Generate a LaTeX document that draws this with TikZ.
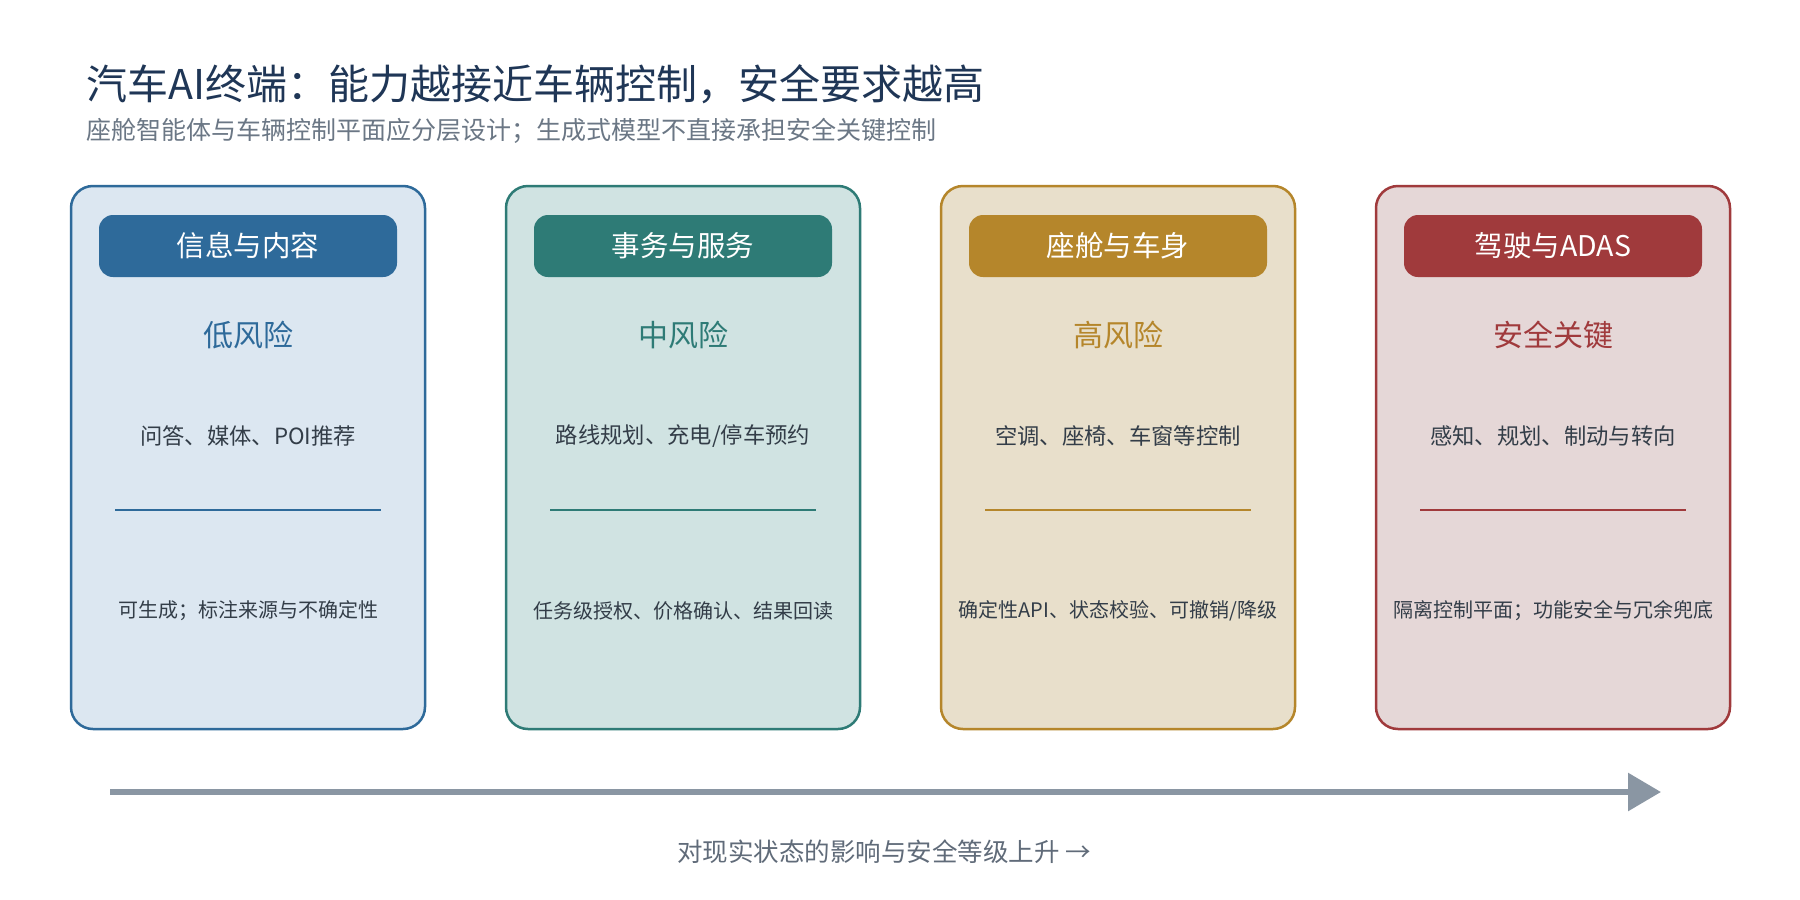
\documentclass[tikz,border=0pt]{standalone}
\usepackage{fontspec}
\setmainfont{Noto Sans CJK SC}
\usetikzlibrary{arrows.meta}
\definecolor{titlec}{HTML}{1F3656}
\definecolor{subc}{HTML}{6B7785}
\definecolor{bodyc}{HTML}{333D48}
\definecolor{arrowc}{HTML}{8A96A3}
\definecolor{blueC}{HTML}{2E6A9A}
\definecolor{blueF}{HTML}{DCE7F1}
\definecolor{tealC}{HTML}{2E7B76}
\definecolor{tealF}{HTML}{D0E3E2}
\definecolor{goldC}{HTML}{B5862B}
\definecolor{goldF}{HTML}{E8DFCB}
\definecolor{redC}{HTML}{A03A3C}
\definecolor{redF}{HTML}{E5D7D7}
\tikzset{
  cardbox/.style={rounded corners=22pt, line width=2.5pt, minimum width=354pt, minimum height=543pt, inner sep=0pt},
  pill/.style={rounded corners=14pt, minimum width=298pt, minimum height=62pt, inner sep=0pt, text=white, font=\fontsize{28.5}{33}\selectfont},
  risklabel/.style={font=\fontsize{30}{35}\selectfont, inner sep=0pt},
  itemtext/.style={font=\fontsize{22.3}{27}\selectfont, text=bodyc, inner sep=0pt},
  notetext/.style={font=\fontsize{20}{24}\selectfont, text=bodyc, inner sep=0pt},
  divider/.style={line width=1.3pt},
}
\newcommand{\riskcard}[8]{%
  \node[cardbox, draw=#3, fill=#4] (card#1) at (#2+177,457.5) {};
  \node[pill, fill=#3] (head#1) at (#2+177,246) {#5};
  \node[risklabel, text=#3] (risk#1) at (#2+177,335) {#6};
  \node[itemtext] (item#1) at (#2+177,436) {#7};
  \coordinate (dl#1) at (#2+44,510);
  \coordinate (dr#1) at (#2+310,510);
  \draw[divider, #3] (dl#1) -- (dr#1);
  \node[notetext] (note#1) at (#2+177,611) {#8};
}
\begin{document}
\begin{tikzpicture}[x=1pt, y=-1pt]
\useasboundingbox[fill=white] (0,0) rectangle (1800,900);
\node[anchor=west, inner sep=0pt, text=titlec, font=\fontsize{41}{48}\selectfont] (title) at (86,84) {汽车AI终端：能力越接近车辆控制，安全要求越高};
\node[anchor=west, inner sep=0pt, text=subc, font=\fontsize{25}{30}\selectfont] (subtitle) at (86,131) {座舱智能体与车辆控制平面应分层设计；生成式模型不直接承担安全关键控制};
\riskcard{1}{71}{blueC}{blueF}{信息与内容}{低风险}{问答、媒体、POI推荐}{可生成；标注来源与不确定性}
\riskcard{2}{506}{tealC}{tealF}{事务与服务}{中风险}{路线规划、充电/停车预约}{任务级授权、价格确认、结果回读}
\riskcard{3}{941}{goldC}{goldF}{座舱与车身}{高风险}{空调、座椅、车窗等控制}{确定性API、状态校验、可撤销/降级}
\riskcard{4}{1376}{redC}{redF}{驾驶与ADAS}{安全关键}{感知、规划、制动与转向}{隔离控制平面；功能安全与冗余兜底}
\coordinate (axs) at (110,792);
\coordinate (axe) at (1661,792);
\draw[arrowc, line width=6pt, -{Triangle[length=33pt, width=37pt]}] (axs) -- (axe);
\node[inner sep=0pt, text=subc!80!bodyc, font=\fontsize{25.5}{30}\selectfont] (axlabel) at (884,852) {对现实状态的影响与安全等级上升 →};
\end{tikzpicture}
\end{document}
